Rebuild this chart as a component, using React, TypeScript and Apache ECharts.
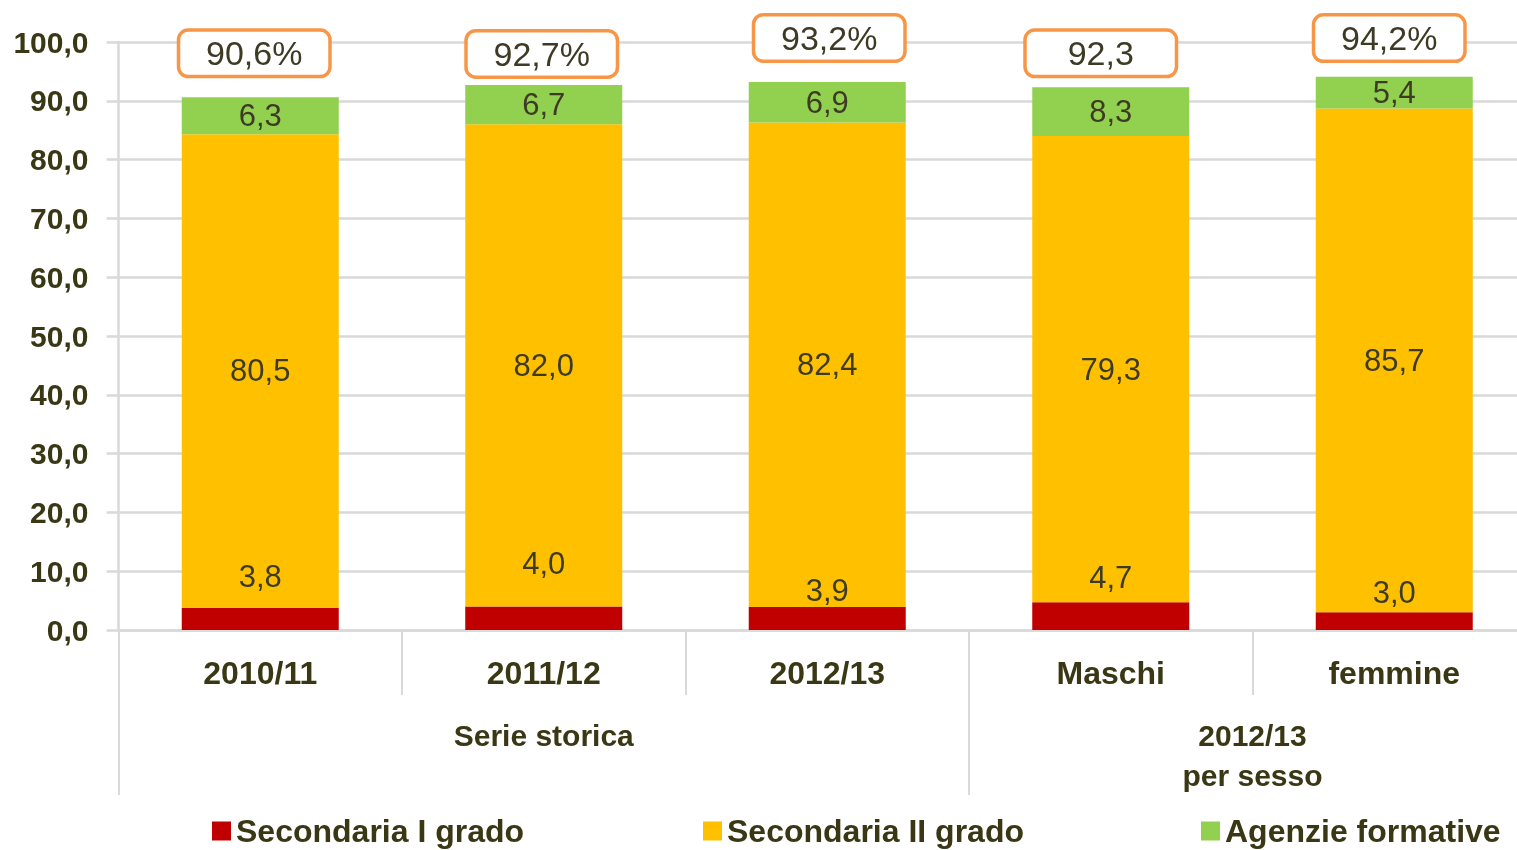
import React, { useEffect, useRef } from "react";
import * as echarts from "echarts";

const categories = ["2010/11", "2011/12", "2012/13", "Maschi", "femmine"];
const groupLabels = ["Serie storica", "2012/13\nper sesso"];
const groupCenters = [1.5, 4];
const groupBounds = [0, 3, 5];
const secondariaI = [3.8, 4.0, 3.9, 4.7, 3.0];
const secondariaII = [80.5, 82.0, 82.4, 79.3, 85.7];
const agenzie = [6.3, 6.7, 6.9, 8.3, 5.4];
const totals = [90.6, 92.7, 93.2, 92.3, 94.2];
const totalLabels = ["90,6%", "92,7%", "93,2%", "92,3", "94,2%"];
const seriesNames = ["Secondaria I grado", "Secondaria II grado", "Agenzie formative"];

// label placement tweaks (pixels), as in the original layout
const redLabelOffsets = [-16, -28, -2, -10, -5];
const boxOffsets: [number, number][] = [[-6, -44], [-2, -31], [2, -44], [-10, -34], [-5, -38]];

const TEXT = "#3a3814";
const VAL = "#3d3b24";
const GRID = "#d9d9d9";
const FONT = "'Liberation Sans', Arial, sans-serif";
const COLORS = ["#C00000", "#FFC000", "#92D050"];

const fmt = (v: number) => v.toFixed(1).replace(".", ",");

export default function App() {
  const ref = useRef<HTMLDivElement>(null);
  useEffect(() => {
    if (!ref.current) return;
    const chart = echarts.init(ref.current, undefined, { renderer: "svg" });
    const valLabel = {
      show: true,
      position: "inside",
      fontFamily: FONT,
      fontSize: 31,
      color: VAL,
      formatter: (p: any) => fmt(p.value),
    };
    const legendBase = {
      top: 814,
      padding: 0,
      icon: "rect",
      itemWidth: 19,
      itemHeight: 19,
      selectedMode: false,
      textStyle: { fontFamily: FONT, fontSize: 32, fontWeight: "bold", color: TEXT, lineHeight: 34 },
    };
    chart.setOption({
      animation: false,
      grid: { left: 118.5, right: 0, top: 42, bottom: 220, containLabel: false },
      legend: [
        { ...legendBase, left: 212, data: [seriesNames[0]] },
        { ...legendBase, left: 703, data: [seriesNames[1]] },
        { ...legendBase, left: 1201, data: [seriesNames[2]] },
      ],
      xAxis: [
        {
          type: "category",
          data: categories,
          axisLine: { show: true, lineStyle: { color: GRID, width: 2.5 } },
          axisTick: { show: true, interval: 0, length: 65, lineStyle: { color: GRID, width: 2 } },
          axisLabel: {
            interval: 0,
            margin: 27,
            fontFamily: FONT,
            fontSize: 32,
            fontWeight: "bold",
            color: TEXT,
            lineHeight: 32,
          },
        },
        {
          type: "value",
          min: 0,
          max: 5,
          position: "bottom",
          axisLine: { show: false },
          splitLine: { show: false },
          axisTick: {
            show: true,
            length: 165,
            customValues: groupBounds,
            lineStyle: { color: GRID, width: 2 },
          },
          axisLabel: {
            show: true,
            customValues: groupCenters,
            margin: 85,
            fontFamily: FONT,
            fontSize: 30,
            fontWeight: "bold",
            color: TEXT,
            lineHeight: 40,
            formatter: (v: number) => groupLabels[groupCenters.indexOf(v)] ?? "",
          },
        },
      ],
      yAxis: {
        type: "value",
        min: 0,
        max: 100,
        interval: 10,
        axisLine: { show: true, lineStyle: { color: GRID, width: 2.5 } },
        axisTick: { show: true, length: 12, lineStyle: { color: GRID, width: 2.5 } },
        splitLine: { show: true, lineStyle: { color: GRID, width: 2.5 } },
        axisLabel: {
          margin: 30,
          fontFamily: FONT,
          fontSize: 30,
          fontWeight: "bold",
          color: TEXT,
          formatter: (v: number) => fmt(v),
        },
      },
      series: [
        {
          name: seriesNames[0],
          type: "bar",
          stack: "tot",
          barWidth: 157,
          itemStyle: { color: COLORS[0] },
          label: { ...valLabel, position: "top", distance: 0, lineHeight: 30 },
          data: secondariaI.map((v, i) => ({ value: v, label: { offset: [0, redLabelOffsets[i]] } })),
        },
        {
          name: seriesNames[1],
          type: "bar",
          stack: "tot",
          barWidth: 157,
          itemStyle: { color: COLORS[1] },
          label: valLabel,
          data: secondariaII,
        },
        {
          name: seriesNames[2],
          type: "bar",
          stack: "tot",
          barWidth: 157,
          itemStyle: { color: COLORS[2] },
          label: valLabel,
          data: agenzie,
        },
        {
          name: "Totale",
          type: "scatter",
          symbolSize: 0,
          silent: true,
          z: 10,
          itemStyle: { opacity: 1 },
          data: totals.map((v, i) => ({ value: [i, v], label: { offset: boxOffsets[i] } })),
          label: {
            show: true,
            position: "inside",
            formatter: (p: any) => totalLabels[p.dataIndex],
            fontFamily: FONT,
            fontSize: 34,
            color: VAL,
            opacity: 1,
            width: 148,
            height: 43,
            lineHeight: 43,
            align: "center",
            verticalAlign: "middle",
            backgroundColor: "#ffffff",
            borderColor: "#F79646",
            borderWidth: 3.5,
            borderRadius: 8,
          },
        },
      ],
    });
    return () => chart.dispose();
  }, []);
  return (
    <div style={{ position: "fixed", left: 0, top: 0, width: 1517, height: 850, overflow: "hidden" }}>
      <div ref={ref} style={{ position: "absolute", left: 0, top: 0, width: 1536, height: 850 }} />
    </div>
  );
}
